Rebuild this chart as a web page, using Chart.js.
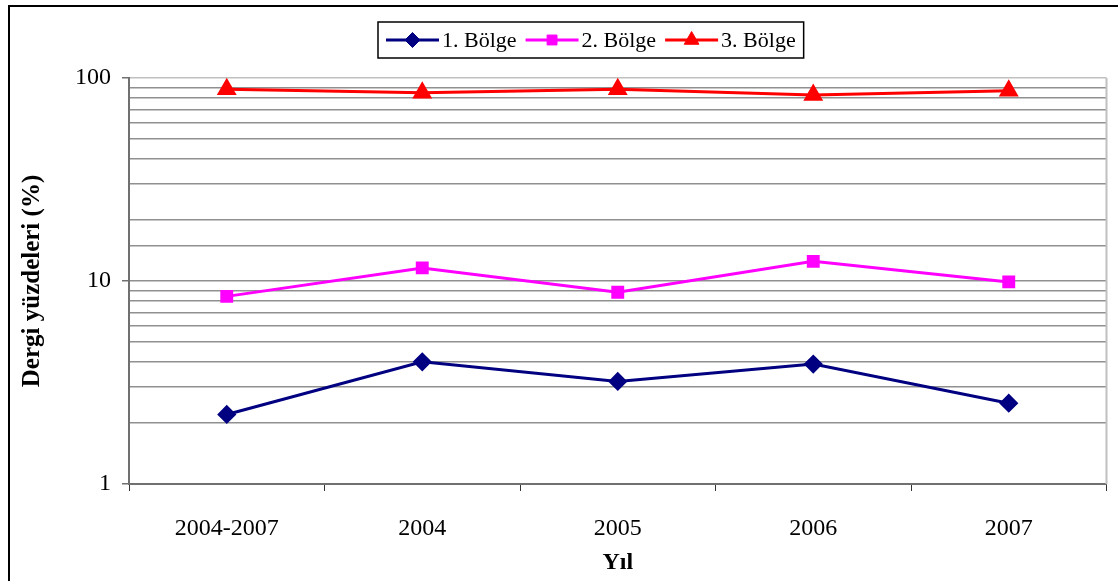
<!DOCTYPE html>
<html>
<head>
<meta charset="utf-8">
<script src="https://cdn.jsdelivr.net/npm/chart.js@4"></script>
<style>
  body { margin: 0; background: #fff; }
  canvas { display: block; }
</style>
</head>
<body>
<canvas id="chart" width="1118" height="581"></canvas>
<script>
// Veriler (logaritmik eksen)
const years = ['2004-2007', '2004', '2005', '2006', '2007'];
const bolge1 = [2.2, 4.0, 3.2, 3.9, 2.5];
const bolge2 = [8.4, 11.6, 8.8, 12.5, 9.9];
const bolge3 = [88, 84.5, 88, 82.5, 86.5];
const seriesNames = ['1. Bölge', '2. Bölge', '3. Bölge'];
const yMajorTicks = [1, 10, 100];

const serif = "'Liberation Serif', 'Times New Roman', serif";
const isMajor = v => yMajorTicks.includes(v);

// Çerçeve ve lejant (çizgi + işaret) için küçük eklenti
const frameLegend = {
    id: 'frameLegend',
    afterDraw(chart) {
        const ctx = chart.ctx;
        ctx.save();
        // dış çerçeve
        ctx.strokeStyle = '#000';
        ctx.lineWidth = 2;
        ctx.strokeRect(9, 6, 1300, 800);

        // plot alanının sağ kenarı
        const area = chart.chartArea;
        ctx.strokeStyle = '#c0c0c0';
        ctx.lineWidth = 2;
        ctx.beginPath();
        ctx.moveTo(area.right, area.top);
        ctx.lineTo(area.right, area.bottom);
        ctx.stroke();

        // lejant
        ctx.font = '22px ' + serif;
        const lineLen = 53, gapText = 3, gapItem = 9, padX = 8;
        const widths = chart.data.datasets.map(d => ctx.measureText(d.label).width);
        const total = widths.reduce((a, w) => a + lineLen + gapText + w, 0) + gapItem * (widths.length - 1) + padX * 2;
        const cx = 591, top = 22, h = 36;
        const left = Math.round(cx - total / 2);
        ctx.strokeStyle = '#000';
        ctx.lineWidth = 1.5;
        ctx.strokeRect(left, top, total, h);

        let x = left + padX;
        const y = top + h / 2;
        chart.data.datasets.forEach((d, i) => {
            ctx.strokeStyle = d.borderColor;
            ctx.lineWidth = 3;
            ctx.beginPath();
            ctx.moveTo(x, y);
            ctx.lineTo(x + lineLen, y);
            ctx.stroke();
            ctx.fillStyle = d.pointBackgroundColor;
            ctx.strokeStyle = d.pointBorderColor;
            ctx.lineWidth = 1;
            Chart.helpers.drawPoint(ctx, { pointStyle: d.pointStyle, radius: d.pointRadius, rotation: 0, borderWidth: 1 }, x + lineLen / 2, y);
            ctx.fillStyle = '#000';
            ctx.textBaseline = 'middle';
            ctx.textAlign = 'left';
            ctx.fillText(d.label, x + lineLen + gapText, y + 1);
            x += lineLen + gapText + widths[i] + gapItem;
        });
        ctx.restore();
    }
};

function makeSet(label, data, color, style, radius) {
    return {
        label: label,
        data: data,
        borderColor: color,
        backgroundColor: color,
        pointBackgroundColor: color,
        pointBorderColor: color,
        borderWidth: 3,
        pointStyle: style,
        pointRadius: radius,
        pointHoverRadius: radius,
        tension: 0
    };
}

new Chart(document.getElementById('chart').getContext('2d'), {
    type: 'line',
    data: {
        labels: years,
        datasets: [
            makeSet(seriesNames[0], bolge1, '#000080', 'rectRot', 7.5),
            makeSet(seriesNames[1], bolge2, '#ff00ff', 'rect', 7),
            makeSet(seriesNames[2], bolge3, '#ff0000', 'triangle', 8.5)
        ]
    },
    options: {
        responsive: false,
        animation: false,
        layout: { padding: { top: 78, right: 11, left: 0, bottom: 0 } },
        plugins: {
            legend: { display: false },
            tooltip: { enabled: false }
        },
        scales: {
            x: {
                offset: true,
                grid: {
                    offset: true,
                    drawOnChartArea: false,
                    drawTicks: true,
                    tickLength: 7,
                    tickColor: '#333'
                },
                border: { color: '#707070', width: 2 },
                ticks: {
                    color: '#000',
                    font: { family: serif, size: 24 },
                    padding: 23,
                    maxRotation: 0
                },
                title: {
                    display: true,
                    text: 'Yıl',
                    color: '#000',
                    font: { family: serif, size: 24, weight: 'bold' },
                    padding: { top: 0, bottom: 4 }
                },
                afterFit: s => { s.height = 97; }
            },
            y: {
                type: 'logarithmic',
                min: 1,
                max: 100,
                grid: {
                    color: ctx => (ctx.tick && ctx.tick.value === 100) ? '#c0c0c0' : '#909090',
                    lineWidth: 1.5,
                    tickLength: 7,
                    tickColor: ctx => (ctx.tick && isMajor(ctx.tick.value)) ? '#707070' : 'rgba(0,0,0,0)'
                },
                border: { color: '#707070', width: 2 },
                ticks: {
                    autoSkip: false,
                    color: '#000',
                    font: { family: serif, size: 24 },
                    padding: 11,
                    callback: v => isMajor(v) ? String(v) : ''
                },
                title: {
                    display: true,
                    text: 'Dergi yüzdeleri (%)',
                    color: '#000',
                    font: { family: serif, size: 25, weight: 'bold' },
                    padding: { top: 18, bottom: 0 }
                },
                afterFit: s => { s.width = 129; }
            }
        }
    },
    plugins: [frameLegend]
});
</script>
</body>
</html>
